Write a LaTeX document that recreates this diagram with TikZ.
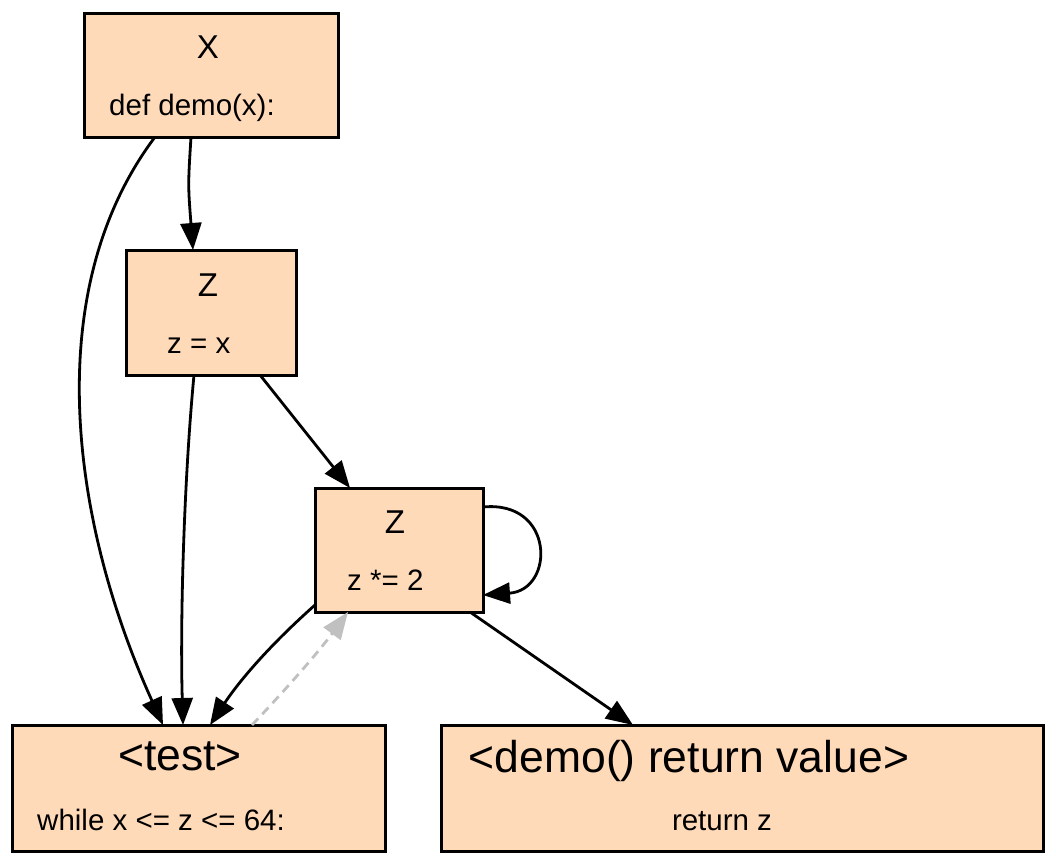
\documentclass[tikz,border=0pt]{standalone}
\usepackage{fontspec}
\setmainfont{Liberation Sans}
\usetikzlibrary{arrows.meta}
\definecolor{peach}{HTML}{FFDAB9}
\definecolor{dashgrey}{HTML}{C0C0C0}
\tikzset{
  box/.style={draw=black, fill=peach, line width=3pt, rectangle, inner sep=0pt},
  ttl/.style={inner sep=0pt, anchor=base, font=\fontsize{33}{33}\selectfont},
  bigttl/.style={inner sep=0pt, anchor=base, font=\fontsize{44.5}{44.5}\selectfont},
  sub/.style={inner sep=0pt, anchor=base west, font=\fontsize{29.5}{29.5}\selectfont},
  edge/.style={draw=black, line width=2.8pt, -{Triangle[length=27pt,width=21pt]}},
  backedge/.style={draw=dashgrey, line width=2.8pt, dashed, dash pattern=on 9pt off 6pt, -{Triangle[length=27pt,width=21pt]}}
}
\begin{document}
\begin{tikzpicture}[x=1pt,y=-1pt]
\useasboundingbox (0,0) rectangle (1056,862);
% boxes
\node[box, minimum width=254pt, minimum height=124pt] (X) at (211,75) {};
\node[box, minimum width=170pt, minimum height=125pt] (Z1) at (211,312.5) {};
\node[box, minimum width=168pt, minimum height=124pt] (Z2) at (399,550) {};
\node[box, minimum width=373pt, minimum height=126pt] (T) at (198.5,788) {};
\node[box, minimum width=602pt, minimum height=126pt] (R) at (742,788) {};
% texts
\node[ttl] (Xt) at (208,58) {X};
\node[sub] (Xs) at (109,115) {def demo(x):};
\node[ttl] (Z1t) at (208,296) {Z};
\node[sub] (Z1s) at (167,353) {z = x};
\node[ttl] (Z2t) at (395,533) {Z};
\node[sub] (Z2s) at (347,590) {z *= 2};
\node[bigttl] (Tt) at (180,770) {<test>};
\node[sub] (Ts) at (37,830) {while x <= z <= 64:};
\node[bigttl] (Rt) at (689,772) {<demo() return value>};
\node[inner sep=0pt, anchor=base, font=\fontsize{29.5}{29.5}\selectfont] (Rs) at (722,830) {return z};
% coordinates on borders
\coordinate (xa) at (155,137);
\coordinate (xb) at (191,137);
\coordinate (z1a) at (194,375);
\coordinate (z1b) at (260,375);
\coordinate (z2out) at (483,507);
\coordinate (z2in) at (483,595);
\coordinate (z2bl) at (315,605);
\coordinate (z2bot) at (348,612);
\coordinate (z2br) at (470,612);
\coordinate (ta) at (163,725);
\coordinate (tb) at (183,725);
\coordinate (tc) at (210,725);
\coordinate (td) at (252,725);
\coordinate (ra) at (633,725);
\coordinate (z1top) at (193,250);
\coordinate (z2top) at (350,488);
% edges
\draw[edge] (xa) .. controls (40,290) and (70,520) .. (ta);
\draw[edge] (xb) .. controls (188,185) .. (z1top);
\draw[edge] (z1a) .. controls (184,480) and (180,620) .. (tb);
\draw[edge] (z1b) -- (z2top);
\draw[edge] (z2out) .. controls (555,500) and (555,590) .. (z2in);
\draw[edge] (z2bl) .. controls (270,645) and (240,680) .. (tc);
\draw[backedge] (td) .. controls (290,685) and (320,650) .. (z2bot);
\draw[edge] (z2br) -- (ra);
\end{tikzpicture}
\end{document}
